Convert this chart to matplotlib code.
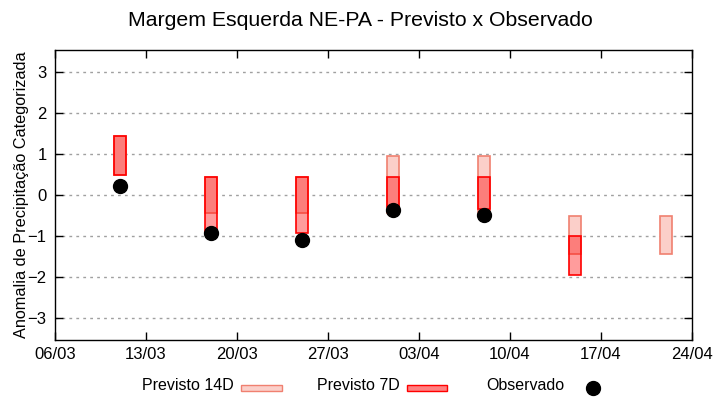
import datetime as dt
import matplotlib
matplotlib.use('Agg')
import matplotlib.pyplot as plt
import matplotlib.dates as mdates
from matplotlib.patches import Rectangle

plt.rcParams['font.family'] = ['Liberation Sans', 'DejaVu Sans']

# semanas
datas = ['2024-03-11', '2024-03-18', '2024-03-25', '2024-04-01',
         '2024-04-08', '2024-04-15', '2024-04-22']
# previsto 14 dias (inferior, superior)
p14_inf = [0.50, -0.45, -0.45, -0.45, -0.45, -1.45, -1.45]
p14_sup = [1.44, 0.44, 0.44, 0.95, 0.95, -0.52, -0.52]
# previsto 7 dias (None = sem previsao)
p7_inf = [0.50, -0.90, -0.93, -0.30, -0.35, -1.95, None]
p7_sup = [1.44, 0.44, 0.44, 0.44, 0.44, -1.00, None]
# observado
obs = [0.22, -0.93, -1.10, -0.37, -0.50, None, None]

ticks = ['2024-03-06', '2024-03-13', '2024-03-20', '2024-03-27',
         '2024-04-03', '2024-04-10', '2024-04-17', '2024-04-24']

x = [mdates.date2num(dt.datetime.strptime(d, '%Y-%m-%d')) for d in datas]
xt = [mdates.date2num(dt.datetime.strptime(d, '%Y-%m-%d')) for d in ticks]
larg = 0.92

fig = plt.figure(figsize=(7.2, 4.0), dpi=100)
ax = fig.add_axes([0.0764, 0.15, 0.8847, 0.725])

cor14 = '#fbcfc9'
borda14 = '#f08070'

for i in range(len(x)):
    ax.bar(x[i], p14_sup[i] - p14_inf[i], bottom=p14_inf[i], width=larg,
           facecolor=cor14, edgecolor=borda14, linewidth=1.2, zorder=2)
for i in range(len(x)):
    if p7_inf[i] is None:
        continue
    ax.bar(x[i], p7_sup[i] - p7_inf[i], bottom=p7_inf[i], width=larg,
           facecolor=(1, 0, 0, 0.39), edgecolor='red', linewidth=1.2, zorder=3)

xo = [x[i] for i in range(len(x)) if obs[i] is not None]
yo = [v for v in obs if v is not None]
ax.plot(xo, yo, 'o', color='black', markersize=10, zorder=4)

ax.set_xlim(xt[0], xt[-1])
ax.set_ylim(-3.55, 3.55)
ax.set_xticks(xt)
ax.set_xticklabels([dt.datetime.strptime(d, '%Y-%m-%d').strftime('%d/%m') for d in ticks])
ax.set_yticks([-3, -2, -1, 0, 1, 2, 3])
ax.tick_params(direction='in', length=6, top=True, right=True, labelsize=12,
               width=1, pad=6)
ax.tick_params(axis='x', pad=5)
ax.grid(axis='y', color='#a0a0a0', linestyle=(0, (2, 3)), linewidth=1)
for s in ax.spines.values():
    s.set_linewidth(1)

ax.set_ylabel('Anomalia de Precipitação Categorizada', fontsize=11.7, labelpad=-1)
fig.text(0.5, 0.948, 'Margem Esquerda NE-PA - Previsto x Observado',
         ha='center', va='center', fontsize=15.3)

# legenda
fig.text(142 / 720, 1 - 386 / 400, 'Previsto 14D', fontsize=11.5, va='center')
fig.patches.append(Rectangle((241 / 720, 1 - 391 / 400), 41 / 720, 6 / 400,
                             transform=fig.transFigure, facecolor=cor14,
                             edgecolor=borda14, linewidth=1))
fig.text(317 / 720, 1 - 386 / 400, 'Previsto 7D', fontsize=11.5, va='center')
fig.patches.append(Rectangle((407 / 720, 1 - 391 / 400), 40 / 720, 6 / 400,
                             transform=fig.transFigure, facecolor='#ff8080',
                             edgecolor='red', linewidth=1))
fig.text(486 / 720, 1 - 386 / 400, 'Observado', fontsize=11.5, va='center')
fig.lines.append(plt.Line2D([593 / 720], [1 - 388 / 400], marker='o',
                            color='black', markersize=10,
                            transform=fig.transFigure))

fig.savefig('out.png', dpi=100)
